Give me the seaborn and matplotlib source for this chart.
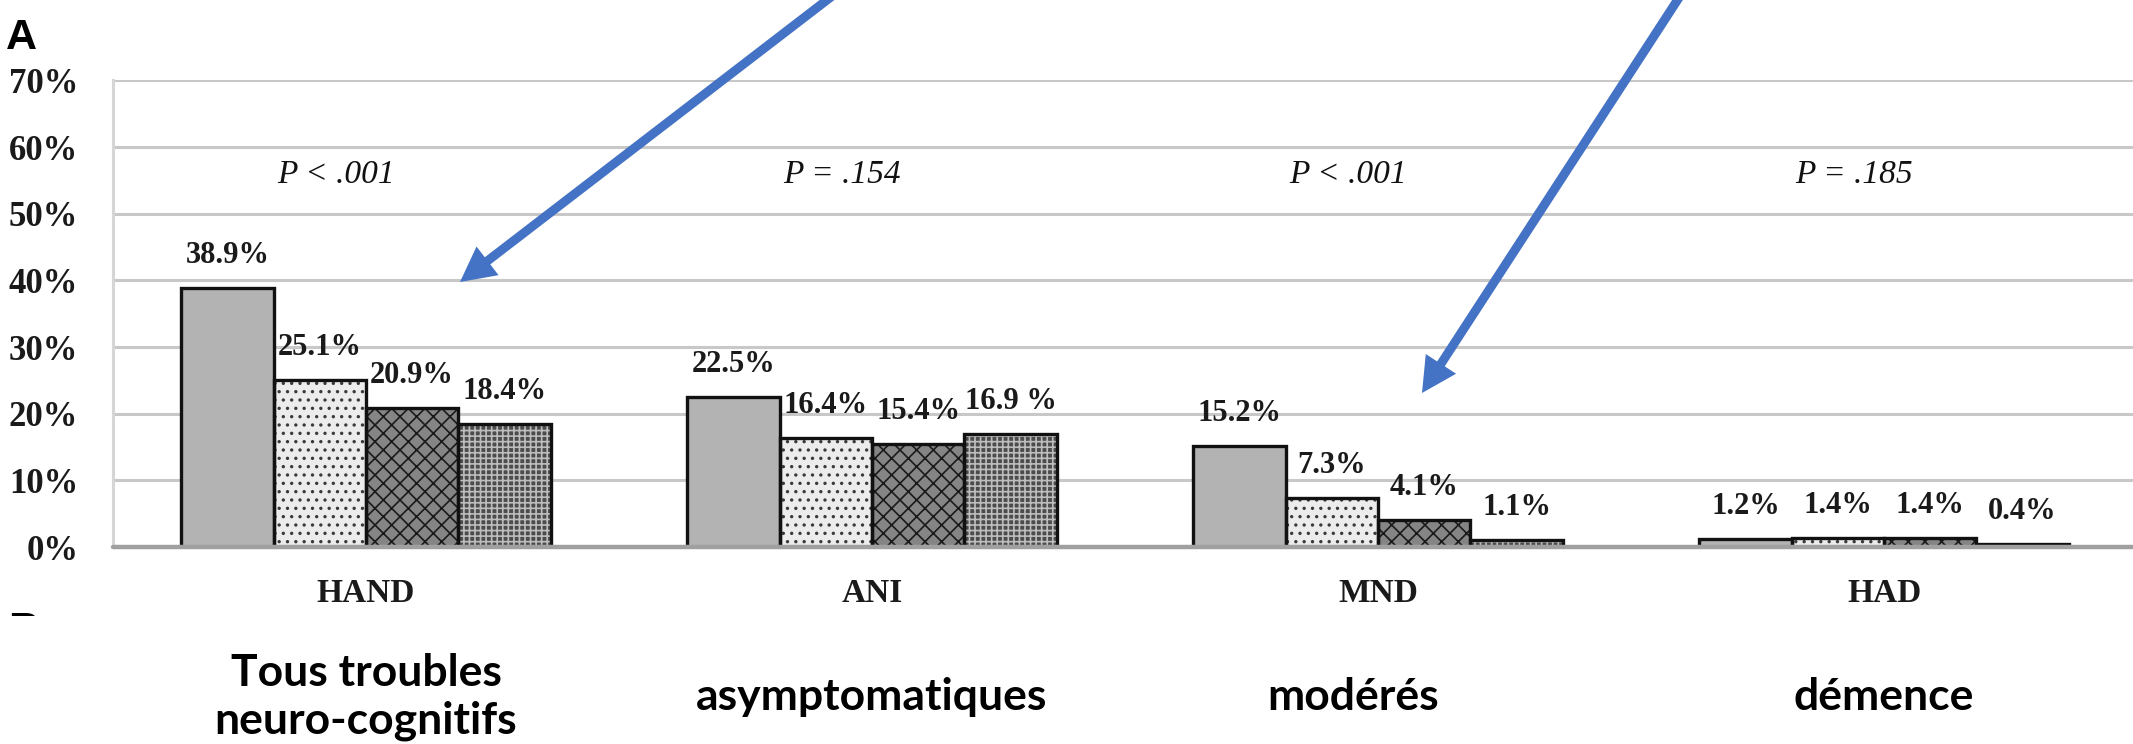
import pandas as pd
import matplotlib.pyplot as plt
import matplotlib.ticker as mtick
import seaborn as sns
from matplotlib.patches import Rectangle, FancyArrowPatch
from matplotlib.transforms import blended_transform_factory, Bbox, TransformedBbox

# --- DONNEES ---
categories = ['HAND', 'ANI', 'MND', 'HAD']
groupes = ['groupe 1', 'groupe 2', 'groupe 3', 'groupe 4']
hand = [38.9, 25.1, 20.9, 18.4]
ani = [22.5, 16.4, 15.4, 16.9]
mnd = [15.2, 7.3, 4.1, 1.1]
had = [1.2, 1.4, 1.4, 0.4]
etiquettes = [
    ['38.9%', '25.1%', '20.9%', '18.4%'],
    ['22.5%', '16.4%', '15.4%', '16.9 %'],
    ['15.2%', '7.3%', '4.1%', '1.1%'],
    ['1.2%', '1.4%', '1.4%', '0.4%'],
]
p_valeurs = ['P < .001', 'P = .154', 'P < .001', 'P = .185']
legendes_fr = ['Tous troubles\nneuro-cognitifs', 'asymptomatiques', 'modérés', 'démence']
y_ticks = [0, 10, 20, 30, 40, 50, 60, 70]

rows = []
for cat, vals in zip(categories, [hand, ani, mnd, had]):
    for g, v in zip(groupes, vals):
        rows.append({'categorie': cat, 'groupe': g, 'valeur': v})
df = pd.DataFrame(rows)

# --- STYLE ---
sns.set_theme(style='white')
plt.rcParams['font.family'] = ['Liberation Serif', 'DejaVu Sans']
plt.rcParams['hatch.linewidth'] = 1.2

W, H = 2133, 744
fig = plt.figure(figsize=(W / 100, H / 100), dpi=100)
ax = fig.add_axes([113 / W, 1 - 547 / H, 2024 / W, (547 - 80) / H])

sns.barplot(data=df, x='categorie', y='valeur', hue='groupe', order=categories,
            hue_order=groupes, width=0.73, saturation=1, errorbar=None,
            palette=['#b3b3b3', '#ececec', '#858585', '#4c4c4c'], legend=False, ax=ax)

# motifs (hachures) + contour noir
motifs = [('', '#b3b3b3'), ('..', '#3a3a3a'), ('xx', '#1a1a1a'), ('+++', '#bdbdbd')]
for cont, (hatch, hc) in zip(ax.containers, motifs):
    for bar in cont:
        bar.set_hatch(hatch)
        bar.set_edgecolor(hc)
        bar.set_linewidth(0)
        ax.add_patch(Rectangle(bar.get_xy(), bar.get_width(), bar.get_height(),
                               fill=False, ec='#111111', lw=2.4, zorder=bar.get_zorder() + 0.1))

# etiquettes des barres
for cont, labs in zip(ax.containers, zip(*etiquettes)):
    ax.bar_label(cont, labels=list(labs), padding=13, fontsize=22, fontweight='bold',
                 color='#1a1a1a')

# valeurs P
for i, p in enumerate(p_valeurs):
    ax.text(i - 0.06, 55.8, p, ha='center', va='center', style='italic',
            fontsize=24, color='#111111')

ax.set_xlim(-0.5, 3.5)
ax.set_ylim(0, 70.05)
ax.set_yticks(y_ticks)
ax.yaxis.set_major_formatter(mtick.PercentFormatter(decimals=0))
ax.set_xlabel('')
ax.set_ylabel('')
ax.tick_params(axis='y', length=0, pad=25, labelsize=25, labelcolor='#1a1a1a')
ax.tick_params(axis='x', which='major', length=0, pad=22, labelsize=24, labelcolor='#1a1a1a')
for lab in ax.get_xticklabels() + ax.get_yticklabels():
    lab.set_fontweight('bold')
ax.set_xticks([-0.5, 0.5, 1.5, 2.5, 3.5], minor=True)
ax.tick_params(axis='x', which='minor', length=14, width=1.8, color='#d0d0d0', direction='out')

ax.set_axisbelow(True)
ax.yaxis.grid(True, color='#c8c8c8', lw=2.2)
ax.xaxis.grid(False)
for s in ['top', 'right', 'bottom']:
    ax.spines[s].set_visible(False)
ax.spines['left'].set_color('#d6d6d6')
ax.spines['left'].set_linewidth(2.2)
ax.axhline(0, color='#a0a0a0', lw=3.2, zorder=5, clip_on=False)

# legendes en francais sous le graphique
trans = blended_transform_factory(ax.transData, fig.transFigure)
x_legendes = [0, 1, 1.95, 3]
for x, txt in zip(x_legendes, legendes_fr):
    ax.text(x, 1 - 697 / H, txt, transform=trans, ha='center', va='center',
            family=['Lato', 'DejaVu Sans'], fontweight='bold', fontsize=32,
            linespacing=1.25, color='black')

# lettres de panneau
fig.text(6 / W, 1 - 49 / H, 'A', family=['Liberation Sans', 'DejaVu Sans'],
         fontweight='bold', fontsize=31, va='baseline', color='black')
b = fig.text(8 / W, 1 - 642 / H, 'B', family=['Liberation Sans', 'DejaVu Sans'],
             fontweight='bold', fontsize=31, va='baseline', color='black')
b.set_clip_box(TransformedBbox(Bbox([[0, 1 - 616 / H], [0.1, 1.0]]), fig.transFigure))
b.set_clip_on(True)

# fleches bleues
def px(x, y):
    return (x / W, 1 - y / H)

for debut, fin in [((840, -10), (460, 282)), ((1684, -10), (1422, 393))]:
    fig.add_artist(FancyArrowPatch(px(*debut), px(*fin), transform=fig.transFigure,
                                   arrowstyle='simple,head_length=0.5,head_width=0.52,tail_width=0.13',
                                   mutation_scale=50, color='#4472C4', lw=0,
                                   shrinkA=0, shrinkB=0))

fig.savefig('out.png', dpi=100)
plt.close()
